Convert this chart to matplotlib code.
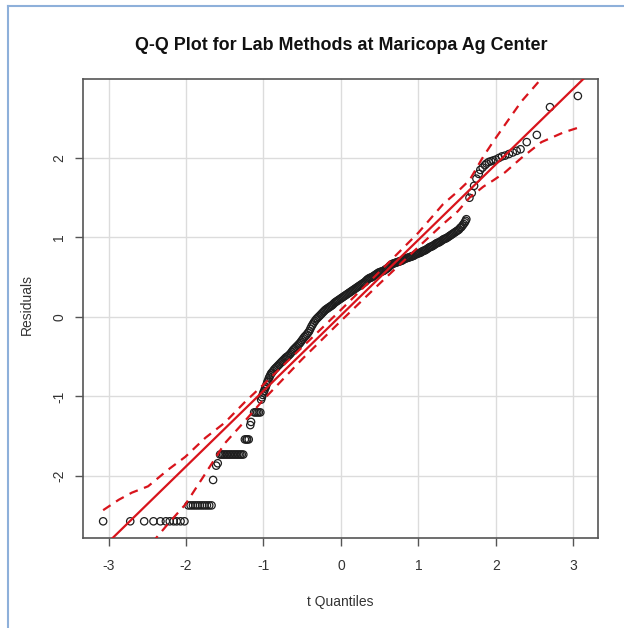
import matplotlib
matplotlib.use("Agg")
import matplotlib.pyplot as plt
from matplotlib.lines import Line2D

plt.rcParams["font.family"] = ["Liberation Sans", "DejaVu Sans"]
plt.rcParams["axes.unicode_minus"] = False

# (t quantile, residual) pairs; tied residuals make the flat runs in the lower tail
lower_tail = [
    (-3.07, -2.57), (-2.72, -2.57), (-2.54, -2.57), (-2.42, -2.57), (-2.33, -2.57),
    (-2.26, -2.57), (-2.21, -2.57), (-2.16, -2.57), (-2.12, -2.57), (-2.07, -2.57),
    (-2.02, -2.57),
    (-1.97, -2.37), (-1.94, -2.37), (-1.91, -2.37), (-1.88, -2.37), (-1.85, -2.37),
    (-1.82, -2.37), (-1.79, -2.37), (-1.76, -2.37), (-1.73, -2.37), (-1.70, -2.37),
    (-1.67, -2.37),
    (-1.65, -2.05), (-1.61, -1.87), (-1.59, -1.84),
    (-1.56, -1.73), (-1.54, -1.73), (-1.52, -1.73), (-1.50, -1.73), (-1.48, -1.73),
    (-1.46, -1.73), (-1.44, -1.73), (-1.42, -1.73), (-1.40, -1.73), (-1.38, -1.73),
    (-1.36, -1.73), (-1.34, -1.73), (-1.32, -1.73), (-1.30, -1.73), (-1.28, -1.73),
    (-1.26, -1.73),
    (-1.24, -1.54), (-1.22, -1.54), (-1.21, -1.54), (-1.19, -1.54),
    (-1.17, -1.36), (-1.16, -1.32),
    (-1.12, -1.20), (-1.10, -1.20), (-1.08, -1.20), (-1.06, -1.20), (-1.04, -1.20),
]
middle = [
    (-1.03, -1.04), (-1.02, -1.01), (-1.01, -0.98), (-1.00, -0.95), (-0.99, -0.93),
    (-0.98, -0.90), (-0.97, -0.88), (-0.96, -0.85), (-0.95, -0.82), (-0.94, -0.80),
    (-0.93, -0.77), (-0.92, -0.75), (-0.91, -0.73), (-0.90, -0.71), (-0.89, -0.70),
    (-0.875, -0.68), (-0.86, -0.66), (-0.845, -0.645), (-0.83, -0.63), (-0.815, -0.615),
    (-0.80, -0.60), (-0.785, -0.585), (-0.77, -0.57), (-0.755, -0.555), (-0.74, -0.54),
    (-0.725, -0.525), (-0.71, -0.51), (-0.695, -0.50), (-0.68, -0.49), (-0.665, -0.475),
    (-0.65, -0.46), (-0.635, -0.44), (-0.62, -0.42), (-0.605, -0.405), (-0.59, -0.39),
    (-0.575, -0.375), (-0.56, -0.36), (-0.545, -0.345), (-0.53, -0.33), (-0.515, -0.31),
    (-0.50, -0.29), (-0.485, -0.27), (-0.47, -0.25), (-0.455, -0.235), (-0.44, -0.22),
    (-0.425, -0.20), (-0.41, -0.18), (-0.395, -0.15), (-0.38, -0.12), (-0.365, -0.095),
    (-0.35, -0.07), (-0.335, -0.05), (-0.32, -0.03), (-0.305, -0.015), (-0.29, 0.00),
    (-0.275, 0.015), (-0.26, 0.03), (-0.245, 0.045), (-0.23, 0.06), (-0.215, 0.075),
    (-0.20, 0.09), (-0.185, 0.10), (-0.17, 0.11), (-0.155, 0.12), (-0.14, 0.13),
    (-0.125, 0.14), (-0.11, 0.15), (-0.095, 0.165), (-0.08, 0.18), (-0.065, 0.19),
    (-0.05, 0.20), (-0.035, 0.21), (-0.02, 0.22), (-0.005, 0.23), (0.01, 0.24),
    (0.025, 0.25), (0.04, 0.26), (0.055, 0.27), (0.07, 0.28), (0.085, 0.29),
    (0.10, 0.30), (0.115, 0.31), (0.13, 0.32), (0.145, 0.33), (0.16, 0.34),
    (0.175, 0.35), (0.19, 0.36), (0.205, 0.37), (0.22, 0.38), (0.235, 0.39),
    (0.25, 0.40), (0.265, 0.41), (0.28, 0.42), (0.295, 0.43), (0.31, 0.44),
    (0.325, 0.455), (0.34, 0.47), (0.355, 0.48), (0.37, 0.49), (0.385, 0.495),
    (0.40, 0.50), (0.415, 0.51), (0.43, 0.52), (0.445, 0.53), (0.46, 0.54),
    (0.475, 0.55), (0.49, 0.56), (0.505, 0.565), (0.52, 0.57), (0.535, 0.575),
    (0.55, 0.58), (0.565, 0.59), (0.58, 0.60), (0.595, 0.61), (0.61, 0.62),
    (0.625, 0.635), (0.64, 0.65), (0.655, 0.66), (0.67, 0.67), (0.685, 0.675),
    (0.70, 0.68), (0.715, 0.685), (0.73, 0.69), (0.745, 0.695), (0.76, 0.70),
    (0.775, 0.705), (0.79, 0.71), (0.805, 0.72), (0.82, 0.73), (0.835, 0.735),
    (0.85, 0.74), (0.865, 0.745), (0.88, 0.75), (0.895, 0.755), (0.91, 0.76),
    (0.925, 0.765), (0.94, 0.77), (0.955, 0.78), (0.97, 0.79), (0.985, 0.795),
    (1.00, 0.80), (1.015, 0.805), (1.03, 0.81), (1.045, 0.82), (1.06, 0.83),
    (1.075, 0.835), (1.09, 0.84), (1.105, 0.85), (1.12, 0.86), (1.135, 0.87),
    (1.15, 0.88), (1.165, 0.885), (1.18, 0.89), (1.195, 0.90), (1.21, 0.91),
    (1.225, 0.92), (1.24, 0.93), (1.255, 0.935), (1.27, 0.94), (1.285, 0.95),
    (1.30, 0.96), (1.315, 0.97), (1.33, 0.98), (1.345, 0.985), (1.36, 0.99),
    (1.375, 1.00), (1.39, 1.01), (1.405, 1.02), (1.42, 1.03), (1.435, 1.04),
    (1.45, 1.05), (1.465, 1.06), (1.48, 1.07), (1.495, 1.08), (1.51, 1.09),
    (1.525, 1.10), (1.54, 1.12), (1.555, 1.13), (1.57, 1.15), (1.585, 1.17),
    (1.60, 1.19), (1.61, 1.21), (1.62, 1.23),
]
upper_tail = [
    (1.66, 1.50), (1.69, 1.56), (1.72, 1.65), (1.75, 1.74), (1.78, 1.80),
    (1.80, 1.85), (1.83, 1.88), (1.86, 1.91), (1.88, 1.93), (1.91, 1.95),
    (1.94, 1.96), (1.97, 1.97), (2.00, 1.98), (2.04, 2.00), (2.08, 2.02),
    (2.12, 2.03), (2.17, 2.05), (2.22, 2.07), (2.27, 2.09), (2.32, 2.11),
    (2.40, 2.20), (2.53, 2.29), (2.70, 2.64), (3.06, 2.78),
]

# fitted reference line and pointwise envelope
line_slope = 0.95
line_intercept = 0.02
env_x = [-3.07, -2.87, -2.70, -2.49, -2.23, -2.01, -1.75, -1.50, -1.25, -1.00, -0.50,
         0.00, 0.50, 1.00, 1.32, 1.51, 1.66, 1.84, 1.97, 2.12, 2.33, 2.59, 2.87, 3.06]
env_upper = [-2.43, -2.30, -2.21, -2.13, -1.92, -1.76, -1.52, -1.33, -1.08, -0.85,
             -0.38, 0.09, 0.57, 1.06, 1.42, 1.58, 1.72, 2.02, 2.21, 2.42, 2.71, 3.00,
             3.35, 3.60]
env_lower = [-3.60, -3.35, -3.10, -2.90, -2.60, -2.36, -1.97, -1.59, -1.32, -1.04,
             -0.53, -0.05, 0.42, 0.88, 1.17, 1.33, 1.50, 1.64, 1.72, 1.82, 2.00, 2.20,
             2.32, 2.38]

xticks = [-3, -2, -1, 0, 1, 2, 3]
yticks = [-2, -1, 0, 1, 2]

W, H = 624, 628
fig = plt.figure(figsize=(W / 100, H / 100), dpi=100)

# light blue window frame
fig.add_artist(Line2D([8 / W, 8 / W], [0, 1 - 6 / H], transform=fig.transFigure,
                      color="#8eb0da", lw=1.5))
fig.add_artist(Line2D([8 / W, 1], [1 - 6 / H, 1 - 6 / H], transform=fig.transFigure,
                      color="#8eb0da", lw=1.5))

left, right, top, bottom = 83, 598, 78.5, 538
ax = fig.add_axes([left / W, 1 - bottom / H, (right - left) / W, (bottom - top) / H])
ax.set_xlim(-3.33, 3.32)
ax.set_ylim(-2.78, 3.0)

for t in xticks:
    ax.axvline(t, color="#dcdcdc", lw=1, zorder=0)
for t in yticks:
    ax.axhline(t, color="#dcdcdc", lw=1, zorder=0)

pts = lower_tail + middle + upper_tail
ax.scatter([p[0] for p in pts], [p[1] for p in pts], s=28, facecolors="none",
           edgecolors="#1e1e1e", linewidths=0.9, zorder=2)

xl = ax.get_xlim()
ax.plot(xl, [line_intercept + line_slope * v for v in xl], color="#d8141c", lw=1.6,
        zorder=3)
ax.plot(env_x, env_upper, color="#d8141c", lw=1.6, dashes=(4, 3), zorder=3)
ax.plot(env_x, env_lower, color="#d8141c", lw=1.6, dashes=(4, 3), zorder=3)
ax.set_xlim(xl)

ax.set_xticks(xticks)
ax.set_yticks(yticks)
ax.set_xticklabels([str(t) for t in xticks])
ax.set_yticklabels([str(t) for t in yticks], rotation=90, va="center")
ax.tick_params(direction="out", length=6, width=1, color="#555555",
               labelcolor="#333333", labelsize=10)
ax.tick_params(axis="x", pad=9)
ax.tick_params(axis="y", pad=6)
for s in ax.spines.values():
    s.set_color("#555555")
    s.set_linewidth(1.2)

fig.text(341 / W, 1 - 45 / H, "Q-Q Plot for Lab Methods at Maricopa Ag Center",
         ha="center", va="center", fontsize=12.9, fontweight="bold", color="#111111")
fig.text(340 / W, 1 - 602 / H, "t Quantiles", ha="center", va="center",
         fontsize=10, color="#333333")
fig.text(27 / W, 1 - 305 / H, "Residuals", ha="center", va="center", rotation=90,
         fontsize=10, color="#333333")

fig.savefig("out.png", dpi=100)
